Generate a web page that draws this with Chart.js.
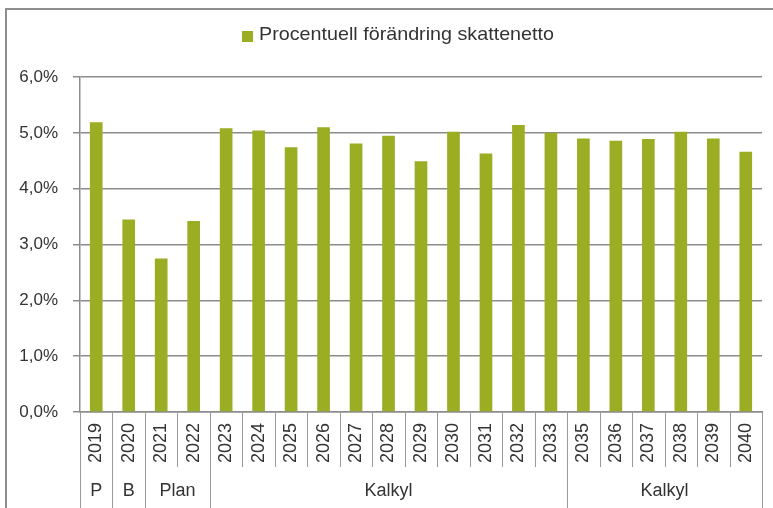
<!DOCTYPE html>
<html>
<head>
<meta charset="utf-8">
<script src="https://cdn.jsdelivr.net/npm/chart.js@4/dist/chart.umd.min.js"></script>
<style>
  html, body { margin: 0; padding: 0; background: #fff; overflow: hidden; }
  #wrap { position: relative; width: 773px; height: 508px; overflow: hidden; }
  #frame { position: absolute; left: 5px; top: 8px; width: 900px; height: 700px; border: 2px solid #8e8e8e; box-sizing: border-box; }
  canvas { position: absolute; left: 0; top: 0; }
</style>
</head>
<body>
<div id="wrap">
  <div id="frame"></div>
  <canvas id="c" width="773" height="508"></canvas>
</div>
<script>
const categories = ['2019','2020','2021','2022','2023','2024','2025','2026','2027','2028','2029','2030','2031','2032','2033','2035','2036','2037','2038','2039','2040'];
const values = [5.19, 3.45, 2.75, 3.42, 5.08, 5.04, 4.74, 5.10, 4.81, 4.95, 4.49, 5.02, 4.63, 5.14, 5.00, 4.90, 4.86, 4.89, 5.02, 4.90, 4.66];
const seriesName = 'Procentuell förändring skattenetto';
const groupLabels = ['P', 'B', 'Plan', 'Kalkyl', 'Kalkyl'];
const groupSpans = [1, 1, 2, 11, 6];
const yTicks = [0, 1, 2, 3, 4, 5, 6];

const GRID = '#8c8c8c';
const SEP = '#9a9a9a';
const TXT = '#333333';
const BAR = '#9aad23';

// Legend drawn as real canvas text, stretched slightly to the reference's width
const customLegend = {
  id: 'customLegend',
  afterDraw(chart) {
    const ctx = chart.ctx;
    const ds = chart.data.datasets[0];
    ctx.save();
    ctx.fillStyle = ds.backgroundColor;
    ctx.fillRect(242, 31, 11, 11);
    ctx.font = '19px "Liberation Sans", Arial, sans-serif';
    const w = ctx.measureText(ds.label).width;
    const sx = 295 / w;
    ctx.translate(259, 39.5);
    ctx.scale(sx, 1);
    ctx.fillStyle = TXT;
    ctx.textAlign = 'left';
    ctx.textBaseline = 'alphabetic';
    ctx.fillText(ds.label, 0, 0);
    ctx.restore();
  }
};

const groupAxis = {
  id: 'groupAxis',
  afterDraw(chart) {
    const ctx = chart.ctx;
    const xs = chart.scales.x;
    const top = chart.chartArea.bottom;
    const half = (xs.getPixelForValue(1) - xs.getPixelForValue(0)) / 2;
    const n = categories.length;
    const groupStarts = new Set();
    let acc = 0;
    groupSpans.forEach(s => { groupStarts.add(acc); acc += s; });
    groupStarts.add(n);
    ctx.save();
    ctx.strokeStyle = SEP;
    ctx.lineWidth = 1;
    for (let i = 0; i <= n; i++) {
      const x = Math.round(xs.getPixelForValue(i) - half) + 0.5;
      const yEnd = groupStarts.has(i) ? 508 : top + 55;
      ctx.beginPath();
      ctx.moveTo(x, top);
      ctx.lineTo(x, yEnd);
      ctx.stroke();
    }
    ctx.fillStyle = TXT;
    ctx.font = '18px "Liberation Sans", Arial, sans-serif';
    ctx.textAlign = 'center';
    ctx.textBaseline = 'middle';
    acc = 0;
    groupSpans.forEach((s, k) => {
      const x0 = xs.getPixelForValue(acc) - half;
      const x1 = xs.getPixelForValue(acc + s - 1) + half;
      ctx.fillText(groupLabels[k], (x0 + x1) / 2, 491);
      acc += s;
    });
    ctx.restore();
  }
};

new Chart(document.getElementById('c'), {
  type: 'bar',
  data: {
    labels: categories,
    datasets: [{
      label: seriesName,
      data: values,
      backgroundColor: BAR,
      borderWidth: 0,
      barPercentage: 0.39,
      categoryPercentage: 1.0
    }]
  },
  options: {
    responsive: false,
    animation: false,
    devicePixelRatio: 1,
    layout: { padding: { top: 77, left: 0, right: 11, bottom: 0 } },
    plugins: {
      legend: { display: false },
      tooltip: { enabled: false }
    },
    scales: {
      x: {
        offset: true,
        grid: { display: true, drawOnChartArea: false, drawTicks: true, tickLength: 8, color: 'rgba(0,0,0,0)' },
        border: { display: true, color: GRID, width: 1.5 },
        ticks: {
          color: TXT,
          font: { family: '"Liberation Sans", Arial, sans-serif', size: 18 },
          minRotation: 90,
          maxRotation: 90,
          padding: 3,
          autoSkip: false
        },
        afterFit(scale) { scale.height = 96; }
      },
      y: {
        min: 0,
        max: 6,
        afterBuildTicks(scale) { scale.ticks = yTicks.map(v => ({ value: v })); },
        grid: { color: GRID, lineWidth: 1.5, drawTicks: true, tickLength: 7, tickColor: GRID },
        border: { display: true, color: GRID, width: 1.5 },
        ticks: {
          color: TXT,
          padding: 15,
          font: { family: '"Liberation Sans", Arial, sans-serif', size: 17 },
          callback: v => v.toFixed(1).replace('.', ',') + '%'
        },
        afterFit(scale) { scale.width = 80; }
      }
    }
  },
  plugins: [customLegend, groupAxis]
});
</script>
</body>
</html>
